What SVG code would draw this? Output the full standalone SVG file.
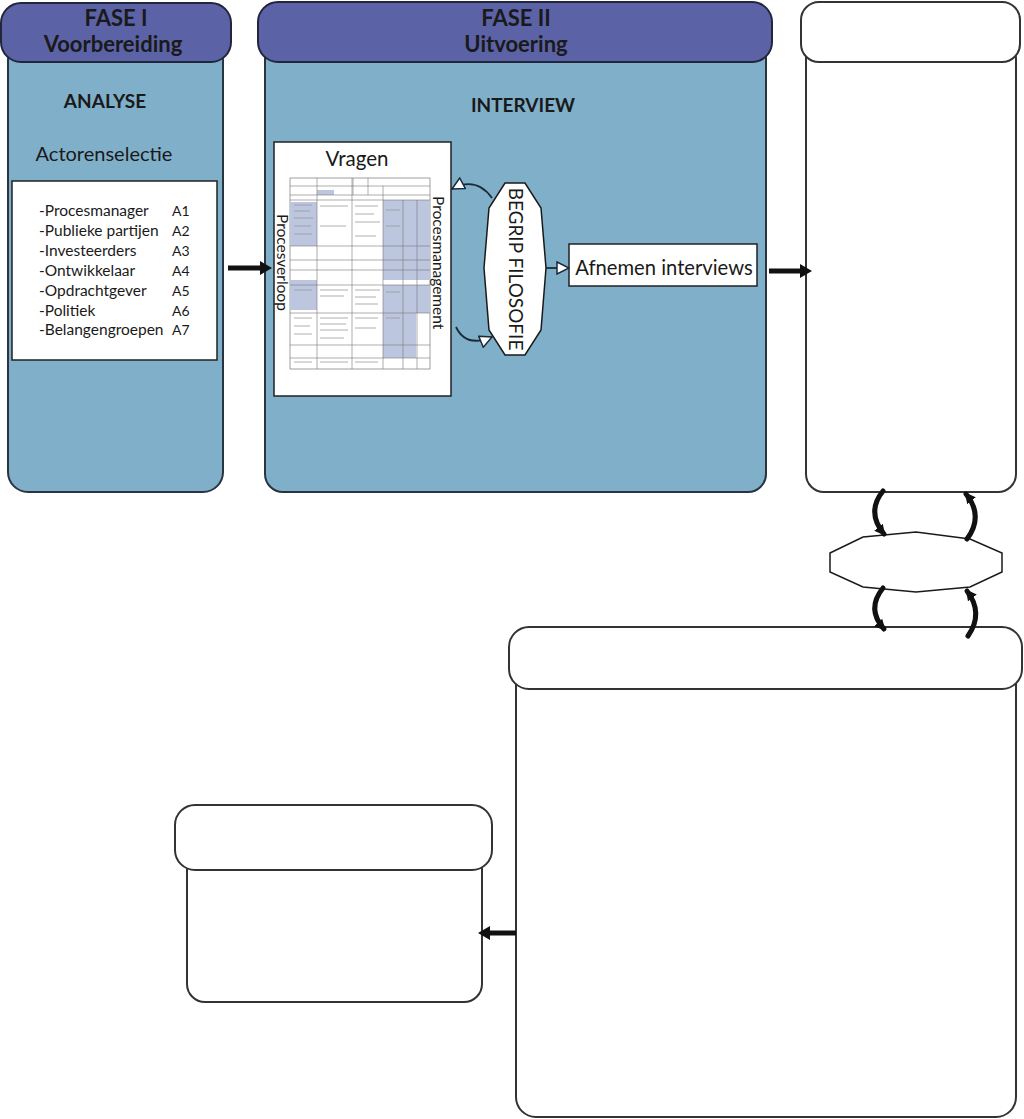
<svg xmlns="http://www.w3.org/2000/svg" width="1024" height="1119" viewBox="0 0 1024 1119">
<defs>
<style>
.hdr{fill:#5b63a6;stroke:#22263a;stroke-width:2}
.body{fill:#7fafc9;stroke:#2a3340;stroke-width:2}
.wbody{fill:#fff;stroke:#333;stroke-width:2}
.t{font-family:Lato,"Open Sans","Liberation Sans",sans-serif;fill:#1a1a1a}
.b{font-weight:bold}
.arc{stroke:#111;stroke-width:5;fill:none;stroke-linecap:round}
.thin{stroke:#1a2a3a;stroke-width:1.8;fill:none}
.grid{stroke:#777;stroke-width:0.6;fill:none}
.shade{fill:#bcc6de}
.scr{stroke:#999;stroke-width:0.8}
</style>
<marker id="small" viewBox="0 0 10 10" refX="8" refY="5" markerWidth="11" markerHeight="11" markerUnits="userSpaceOnUse" orient="auto">
<path d="M0,0 L10,5 L0,10 Z" fill="#111"/>
</marker>
<marker id="open" viewBox="0 0 14 14" refX="13" refY="7" markerWidth="14" markerHeight="14" markerUnits="userSpaceOnUse" orient="auto">
<path d="M1,1 L13,7 L1,13 Z" fill="#fff" stroke="#1a2a3a" stroke-width="1.5"/>
</marker>
</defs>

<g id="fase1">
<rect class="body" x="8" y="40" width="215" height="452" rx="20"/>
<rect class="hdr" x="1" y="3" width="230" height="59" rx="20"/>
<text class="t b" x="116" y="26" font-size="22" text-anchor="middle">FASE I</text>
<text class="t b" x="113" y="52" font-size="22" text-anchor="middle">Voorbereiding</text>
<text class="t b" x="105" y="108" font-size="19" text-anchor="middle">ANALYSE</text>
<text class="t" x="104" y="161" font-size="20" text-anchor="middle">Actorenselectie</text>
<g id="actoren">
<rect x="12" y="181" width="205" height="179" fill="#fff" stroke="#222" stroke-width="1.5"/>
<g class="t" font-size="15.5">
<text x="39" y="216">-Procesmanager</text>
<text x="39" y="236">-Publieke partijen</text>
<text x="39" y="256">-Investeerders</text>
<text x="39" y="276">-Ontwikkelaar</text>
<text x="39" y="296">-Opdrachtgever</text>
<text x="39" y="316">-Politiek</text>
<text x="39" y="335">-Belangengroepen</text>
</g>
<g class="t" font-size="14">
<text x="172" y="216">A1</text>
<text x="172" y="236">A2</text>
<text x="172" y="256">A3</text>
<text x="172" y="276">A4</text>
<text x="172" y="296">A5</text>
<text x="172" y="316">A6</text>
<text x="172" y="335">A7</text>
</g>
</g>
</g>

<g id="fase2">
<rect class="body" x="265" y="40" width="501" height="452" rx="18"/>
<rect class="hdr" x="258" y="2" width="514" height="60" rx="20"/>
<text class="t b" x="516" y="26" font-size="22" text-anchor="middle">FASE II</text>
<text class="t b" x="516" y="52" font-size="22" text-anchor="middle">Uitvoering</text>
<text class="t b" x="523" y="112" font-size="19" text-anchor="middle">INTERVIEW</text>
</g>

<g id="vragen">
<rect x="274" y="142" width="177" height="254" fill="#fff" stroke="#222" stroke-width="1.5"/>
<text class="t" x="357" y="166" font-size="20.5" text-anchor="middle">Vragen</text>
<g id="tabel">
<rect x="290" y="178" width="140" height="191" fill="#fff" stroke="#888" stroke-width="0.8"/>
<rect class="shade" x="290" y="202" width="27" height="44"/>
<rect class="shade" x="383" y="200" width="47" height="80"/>
<rect class="shade" x="290" y="280" width="27" height="30"/>
<rect class="shade" x="383" y="285" width="47" height="28"/>
<rect class="shade" x="383" y="313" width="33" height="45"/>
<rect class="shade" x="317" y="190" width="17" height="5"/>
<path class="grid" d="M290,186 H430 M290,195 H430 M290,200 H430 M290,246 H430 M290,260 H430 M290,270 H430 M290,285 H430 M290,313 H430 M290,345 H430 M290,358 H430"/>
<path class="grid" d="M317,178 V369 M352,178 V369 M383,186 V369 M403,200 V369 M417,200 V369 M353,178 V195 M368,178 V195"/>
<path class="scr" d="M294,205 H312 M294,211 H310 M294,218 H313 M294,226 H311 M294,234 H312 M320,206 H348 M320,226 H346 M355,206 H378 M355,214 H374 M355,222 H380 M355,236 H376 M386,210 H400 M386,226 H400 M294,290 H312 M320,290 H348 M320,296 H344 M355,290 H380 M355,297 H376 M355,304 H378 M386,292 H400 M294,318 H312 M294,326 H310 M294,334 H312 M320,318 H348 M320,324 H346 M320,330 H348 M320,338 H344 M355,318 H378 M355,328 H376 M386,318 H400 M294,362 H312 M320,362 H348 M355,362 H378"/>
</g>
<text class="t" font-size="15.5" transform="translate(277,214) rotate(90)">Procesverloop</text>
<text class="t" font-size="15.5" transform="translate(433,196) rotate(90)">Procesmanagement</text>
</g>

<g id="begrip">
<polygon points="505,183 525,183 541,208 546,268 541,330 525,355 505,355 489,330 484,268 489,208" fill="#fff" stroke="#1a1a1a" stroke-width="1.5"/>
<text class="t" font-size="19" text-anchor="middle" transform="translate(509,269) rotate(90)">BEGRIP FILOSOFIE</text>
</g>

<g id="afnemen">
<rect x="569" y="244" width="188" height="42" fill="#fff" stroke="#222" stroke-width="1.5"/>
<text class="t" x="664" y="275" font-size="20.2" text-anchor="middle">Afnemen interviews</text>
</g>

<g id="fase3">
<rect class="wbody" x="806" y="40" width="210" height="452" rx="18"/>
<rect class="wbody" x="801" y="2" width="219" height="60" rx="18"/>
</g>

<g id="tussen">
<polygon points="830,553 863,537 916,532 970,539 1002,553 1002,572 970,587 916,592 863,587 830,572" fill="#fff" stroke="#1a1a1a" stroke-width="1.5"/>
</g>

<g id="fase4">
<rect class="wbody" x="516" y="660" width="500" height="457" rx="20"/>
<rect class="wbody" x="509" y="627" width="513" height="62" rx="20"/>
</g>

<g id="fase5">
<rect class="wbody" x="187" y="840" width="295" height="162" rx="18"/>
<rect class="wbody" x="175" y="805" width="317" height="65" rx="20"/>
</g>

<g id="connectors">
<path d="M228,265.5 H260 V261 L272,268 L260,275 V270.5 H228 Z" fill="#111"/>
<path d="M769,268.5 H800 V264 L812,271 L800,278 V273.5 H769 Z" fill="#111"/>
<path d="M516,930.5 H490 V926 L478,933 L490,940 V935.5 H516 Z" fill="#111"/>
<path class="thin" d="M492,198 Q476,176 452,189" marker-end="url(#open)"/>
<path class="thin" d="M456,327 Q466,348 492,337" marker-end="url(#open)"/>
<path class="thin" d="M546,268 H569" marker-end="url(#open)"/>
<path class="arc" d="M883,491 Q866,512 884,534" marker-end="url(#small)"/>
<path class="arc" d="M967,539 Q984,516 966,494" marker-end="url(#small)"/>
<path class="arc" d="M883,588 Q866,609 884,629" marker-end="url(#small)"/>
<path class="arc" d="M968,636 Q984,613 967,591" marker-end="url(#small)"/>
</g>
</svg>
